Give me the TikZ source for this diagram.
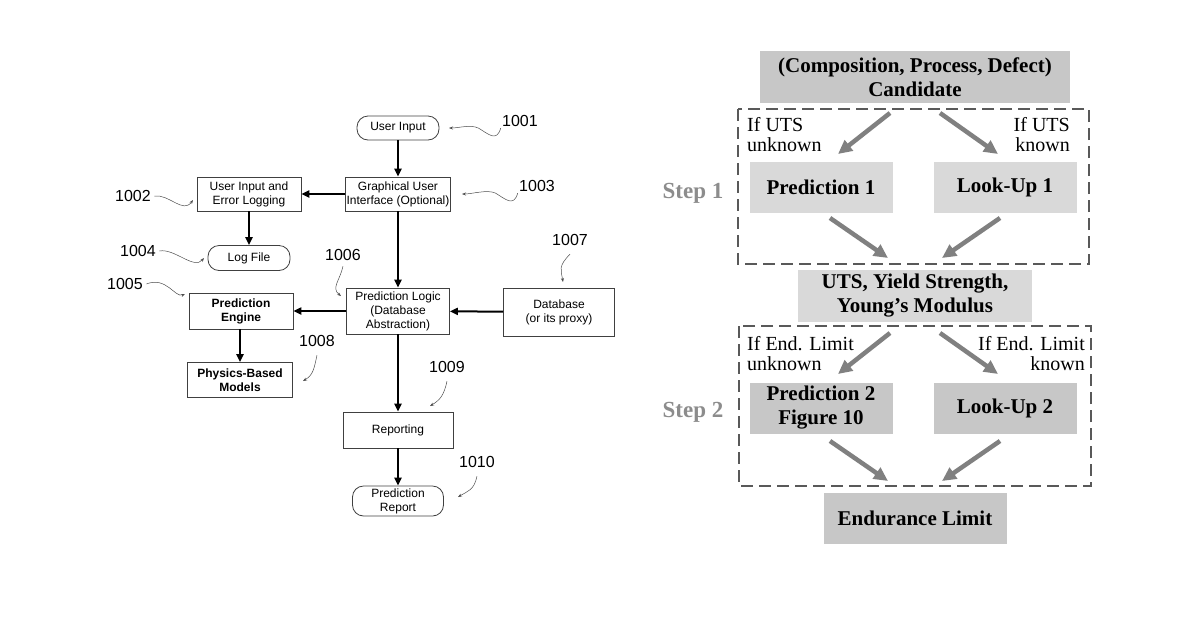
\documentclass[tikz,border=0pt]{standalone}
\usepackage{fontspec}
\setmainfont{Liberation Serif}
\setsansfont{Liberation Sans}
\usetikzlibrary{arrows.meta}
\begin{document}
\begin{tikzpicture}[x=1pt,y=-1pt,
 bx/.style={draw=black!75,line width=0.8pt,minimum width=#1,align=center,font=\sffamily\fontsize{12}{14}\selectfont,inner sep=1pt},
 bx/.default=104pt,
 rbx/.style={bx=#1,rounded corners=11pt},
 bb/.style={font=\sffamily\bfseries\fontsize{12}{14}\selectfont},
 ar/.style={-{Triangle[length=8pt,width=7pt]},line width=2pt},
 num/.style={font=\sffamily\fontsize{16}{18}\selectfont},
 sq/.style={-{Stealth[length=4pt]},line width=0.5pt,black!70},
 gb/.style={fill=#1,inner sep=0pt,align=center,font=\bfseries\fontsize{21}{24}\selectfont},
 ga/.style={-{Triangle[length=14pt,width=13pt]},line width=4.5pt,black!50},
 lab/.style={font=\fontsize{20}{20}\selectfont,align=#1,inner sep=0pt},
 dbox/.style={draw=black!65,dash pattern=on 12pt off 6pt,line width=1.6pt},
 stp/.style={font=\bfseries\fontsize{23}{25}\selectfont,text=black!45}]
\useasboundingbox (0,0) rectangle (1200,630);
% left diagram
\node[rbx=82pt,minimum height=24pt] (ui) at (398,128) {User Input};
\node[bx=105pt,minimum height=34pt] (gui) at (398,194) {Graphical User\\Interface (Optional)};
\node[bx=104pt,minimum height=34pt] (log) at (249,194) {User Input and\\Error Logging};
\node[rbx=82pt,minimum height=25pt] (lf) at (249,258) {Log File};
\node[bx=103pt,minimum height=46pt] (pl) at (398,311) {Prediction Logic\\(Database\\Abstraction)};
\node[bx=111pt,minimum height=48pt] (db) at (559,312) {Database\\(or its proxy)};
\node[bx=104pt,minimum height=36pt,bb] (pe) at (241,311) {Prediction\\Engine};
\node[bx=105pt,minimum height=35pt,bb] (pb) at (240,380) {Physics-Based\\Models};
\node[bx=110pt,minimum height=36pt] (rep) at (398,430) {Reporting};
\node[rbx=91pt,minimum height=30pt] (pr) at (398,501) {Prediction\\Report};
\draw[ar] (ui) -- (gui);
\draw[ar] (gui) -- (log);
\draw[ar] (log) -- (lf);
\draw[ar] (gui) -- (pl);
\draw[ar] (pl) -- (pe);
\draw[ar] (db) -- (pl);
\draw[ar] (pe.south -| pb) -- (pb);
\draw[ar] (pl) -- (rep);
\draw[ar] (rep) -- (pr);
% numbers
\node[num] (n1) at (520,121) {1001};
\node[num] (n2) at (133,196) {1002};
\node[num] (n3) at (537,186) {1003};
\node[num] (n4) at (138,251) {1004};
\node[num] (n5) at (125,284) {1005};
\node[num] (n6) at (343,255) {1006};
\node[num] (n7) at (570,240) {1007};
\node[num] (n8) at (317,341) {1008};
\node[num] (n9) at (447,367) {1009};
\node[num] (n10) at (477,462) {1010};
\draw[sq] (n1.south west)+(2,-2) .. controls +(-4,14) and +(10,6) .. +(-20,-2) .. controls +(-8,-4) and +(10,0) .. (449,128);
\draw[sq] (n2.east) .. controls +(15,-2) and +(-10,14) .. (193,200);
\draw[sq] (n3.south west)+(2,-2) .. controls +(-4,14) and +(10,6) .. +(-20,-2) .. controls +(-8,-4) and +(10,0) .. (462,194);
\draw[sq] (n4.east) .. controls +(15,-3) and +(-10,12) .. (204,258);
\draw[sq] (n5.east) .. controls +(20,-8) and +(-10,4) .. (185,294);
\draw[sq] (n6.south)+(0,2) .. controls +(-3,14) and +(-10,-8) .. (341,296);
\draw[sq] (n7.south)+(0,5) .. controls +(-12,12) and +(-2,-12) .. (563,282);
\draw[sq] (n8.south)+(0,5) .. controls +(-3,14) and +(10,-6) .. (303,381);
\draw[sq] (n9.south)+(0,5) .. controls +(-3,14) and +(10,-6) .. (430,406);
\draw[sq] (n10.south)+(0,5) .. controls +(-3,14) and +(10,-6) .. (458,497);
% right diagram
\draw[dbox] (738,109) rectangle (1089,264);
\draw[dbox] (739,326) rectangle (1091,486);
\node[gb=black!22,minimum width=310pt,minimum height=52pt] (cand) at (915,77) {(Composition, Process, Defect)\\Candidate};
\node[gb=black!15,minimum width=143pt,minimum height=51pt] (p1) at (821,187) {Prediction 1};
\node[gb=black!15,minimum width=143pt,minimum height=51pt] (l1) at (1005,187) {Look-Up 1};
\node[gb=black!15,minimum width=234pt,minimum height=52pt] (uts) at (915,296) {UTS, Yield Strength,\\Young{\char"27}s Modulus};
\node[gb=black!22,minimum width=143pt,minimum height=51pt] (p2) at (821,408) {Prediction 2\\Figure 10};
\node[gb=black!22,minimum width=143pt,minimum height=51pt] (l2) at (1005,408) {Look-Up 2};
\node[gb=black!22,minimum width=183pt,minimum height=51pt] (end) at (915,518) {Endurance Limit};
\node[stp] (s1) at (693,193) {Step 1};
\node[stp] (s2) at (693,412) {Step 2};
\node[lab=left,anchor=north west] (t1) at (747,117) {If UTS\\unknown};
\node[lab=right,anchor=north east] (t2) at (1070,117) {If UTS\\known};
\node[lab=left,anchor=north west] (t3) at (747,336) {If End. Limit\\unknown};
\node[lab=right,anchor=north east] (t4) at (1085,336) {If End. Limit\\known};
\coordinate (c1) at (890,113); \coordinate (c2) at (940,113);
\coordinate (c3) at (888,258); \coordinate (c4) at (942,258);
\coordinate (c5) at (890,333); \coordinate (c6) at (940,333);
\coordinate (c7) at (888,481); \coordinate (c8) at (942,481);
\draw[ga] (c1) -- (838,154);
\draw[ga] (c2) -- (998,154);
\draw[ga] (830,218) -- (c3);
\draw[ga] (1000,218) -- (c4);
\draw[ga] (c5) -- (838,374);
\draw[ga] (c6) -- (998,374);
\draw[ga] (830,441) -- (c7);
\draw[ga] (1000,441) -- (c8);
\end{tikzpicture}
\end{document}
